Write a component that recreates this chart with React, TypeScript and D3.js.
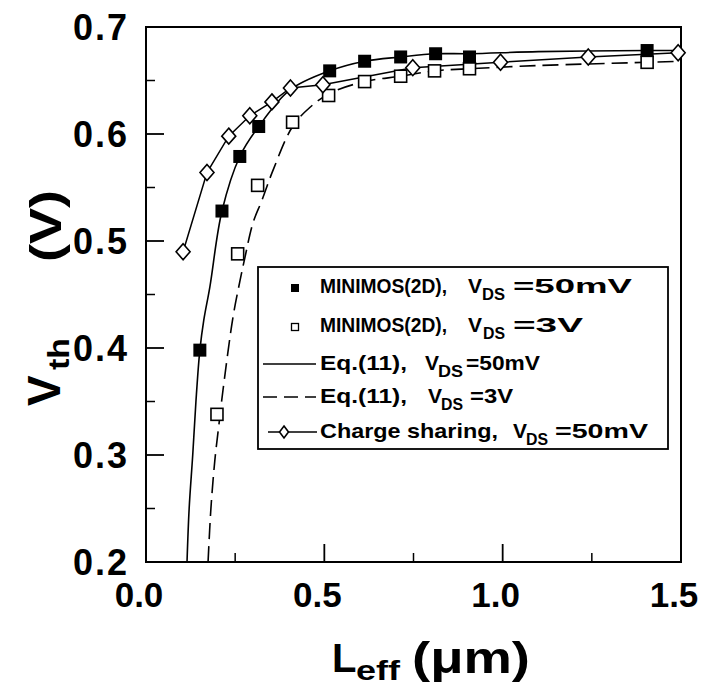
import * as d3 from "d3";

// MINIMOS(2D), VDS = 50mV (filled squares)
const minimos50L = [0.151, 0.213, 0.263, 0.316, 0.515, 0.613, 0.714, 0.812, 0.907, 1.405];
const minimos50V = [0.398, 0.528, 0.579, 0.607, 0.659, 0.668, 0.672, 0.675, 0.672, 0.678];

// MINIMOS(2D), VDS = 3V (open squares)
const minimos3L = [0.199, 0.257, 0.313, 0.411, 0.512, 0.613, 0.714, 0.809, 0.907, 1.405];
const minimos3V = [0.338, 0.488, 0.552, 0.611, 0.636, 0.649, 0.654, 0.659, 0.661, 0.667];

// Eq.(11), VDS = 50mV (solid)
const eq50L = [0.115, 0.121, 0.131, 0.14, 0.151, 0.162, 0.179, 0.213, 0.263, 0.316, 0.403, 0.515, 0.613, 0.714, 0.812, 0.907, 1.1, 1.405, 1.5];
const eq50V = [0.2, 0.25, 0.3, 0.35, 0.398, 0.426, 0.457, 0.528, 0.579, 0.607, 0.641, 0.659, 0.668, 0.672, 0.675, 0.675, 0.677, 0.678, 0.678];

// Eq.(11), VDS = 3V (dashed)
const eq3L = [0.174, 0.182, 0.193, 0.205, 0.216, 0.244, 0.263, 0.277, 0.3, 0.325, 0.356, 0.411, 0.46, 0.515, 0.613, 0.714, 0.809, 0.907, 1.1, 1.405, 1.5];
const eq3V = [0.2, 0.25, 0.295, 0.33, 0.361, 0.429, 0.462, 0.484, 0.517, 0.538, 0.566, 0.607, 0.625, 0.638, 0.649, 0.654, 0.659, 0.661, 0.664, 0.667, 0.668];

// Charge sharing, VDS = 50mV (diamonds)
const chargeL = [0.104, 0.171, 0.232, 0.291, 0.353, 0.405, 0.496, 0.748, 0.994, 1.24, 1.492];
const chargeV = [0.49, 0.564, 0.598, 0.617, 0.63, 0.643, 0.646, 0.662, 0.667, 0.672, 0.676];

const xMajor = [0, 0.5, 1.0, 1.5];
const xMinor = [0.25, 0.75, 1.25];
const yMajor = [0.2, 0.3, 0.4, 0.5, 0.6, 0.7];
const yMinor = [0.25, 0.35, 0.45, 0.55, 0.65];

const legendLabels = ["MINIMOS(2D),", "MINIMOS(2D),", "Eq.(11),", "Eq.(11),", "Charge sharing,"];
const legendConds = ["=50mV", "=3V", "=50mV", "=3V", "=50mV"];

const FONT = "'Liberation Sans', Arial, Helvetica, sans-serif";

// legend text layout: [x, width] of each piece, per row
const legendLayout = [
    { base: 293, lab: [320, 127], v: 468, ds: [482, 23], cond: [513, 119] },
    { base: 332, lab: [320, 127], v: 468, ds: [483, 22], cond: [513, 70] },
    { base: 370, lab: [320, 87], v: 425, ds: [438, 25], cond: [466, 74] },
    { base: 403, lab: [320, 87], v: 428, ds: [441, 22], cond: [470, 43] },
    { base: 438, lab: [320, 178], v: 513, ds: [526, 22], cond: [555, 93] },
];

const zip = (a: number[], b: number[]) => a.map((v, i) => [v, b[i]] as [number, number]);

function Diamond({ cx, cy, w = 7, h = 8 }: { cx: number; cy: number; w?: number; h?: number }) {
    return (
        <path
            d={`M${cx},${cy - h}L${cx + w},${cy}L${cx},${cy + h}L${cx - w},${cy}Z`}
            fill="white"
            stroke="black"
            strokeWidth={1.6}
        />
    );
}

export default function App() {
    const width = 701;
    const height = 691;
    const x = d3.scaleLinear([0, 1.5], [146, 681]);
    const y = d3.scaleLinear([0.2, 0.7], [562, 27]);

    const line = d3
        .line<[number, number]>()
        .x((d) => x(d[0]))
        .y((d) => y(d[1]))
        .curve(d3.curveCatmullRom.alpha(0.5));
    const straight = d3
        .line<[number, number]>()
        .x((d) => x(d[0]))
        .y((d) => y(d[1]));

    const rowBase = legendLayout.map((r) => r.base);

    return (
        <svg
            width={width}
            height={height}
            style={{ position: "absolute", left: 0, top: 0, background: "white" }}
            fontFamily={FONT}
            fontWeight="bold"
        >
            <defs>
                <clipPath id="plot">
                    <rect x={x(0)} y={y(0.7)} width={x(1.5) - x(0)} height={y(0.2) - y(0.7)} />
                </clipPath>
            </defs>

            {/* frame */}
            <rect
                x={x(0)}
                y={y(0.7)}
                width={x(1.5) - x(0)}
                height={y(0.2) - y(0.7)}
                fill="none"
                stroke="black"
                strokeWidth={2}
            />

            {/* ticks */}
            {yMajor.map((v) => (
                <line key={"ym" + v} x1={x(0)} x2={x(0) + 18} y1={y(v)} y2={y(v)} stroke="black" strokeWidth={1.8} />
            ))}
            {yMinor.map((v) => (
                <line key={"yn" + v} x1={x(0)} x2={x(0) + 9} y1={y(v)} y2={y(v)} stroke="black" strokeWidth={1.5} />
            ))}
            {xMajor.map((v) => (
                <line key={"xm" + v} x1={x(v)} x2={x(v)} y1={y(0.2)} y2={y(0.2) - 18} stroke="black" strokeWidth={1.8} />
            ))}
            {xMinor.map((v) => (
                <line key={"xn" + v} x1={x(v)} x2={x(v)} y1={y(0.2)} y2={y(0.2) - 9} stroke="black" strokeWidth={1.5} />
            ))}

            {/* tick labels */}
            {yMajor.map((v) => (
                <text key={"yl" + v} x={129} y={y(v)} dy="0.36em" textAnchor="end" fontSize={36} letterSpacing={2}>
                    {v.toFixed(1)}
                </text>
            ))}
            {xMajor.map((v) => (
                <text key={"xl" + v} x={x(v) - 7} y={607} textAnchor="middle" fontSize={35}>
                    {v.toFixed(1)}
                </text>
            ))}

            {/* x axis title */}
            <text x={332} y={672} fontSize={40}>L</text>
            <text x={356} y={680} fontSize={28} textLength={44} lengthAdjust="spacingAndGlyphs">eff</text>
            <text x={412} y={673} fontSize={44} textLength={118} lengthAdjust="spacingAndGlyphs">(μm)</text>

            {/* y axis title */}
            <g transform="translate(60,0) rotate(-90)">
                <text x={-406} y={0} fontSize={46}>V</text>
                <text x={-370} y={9} fontSize={30} textLength={32} lengthAdjust="spacingAndGlyphs">th</text>
                <text x={-262} y={1} fontSize={44} textLength={72} lengthAdjust="spacingAndGlyphs">(V)</text>
            </g>

            {/* curves */}
            <g clipPath="url(#plot)" fill="none" stroke="black">
                <path d={line(zip(eq50L, eq50V)) || ""} strokeWidth={1.6} />
                <path d={line(zip(eq3L, eq3V)) || ""} strokeWidth={1.6} strokeDasharray="16,7" />
                <path d={straight(zip(chargeL, chargeV)) || ""} strokeWidth={1.5} />
            </g>

            {/* markers */}
            {zip(minimos3L, minimos3V).map(([l, v], i) => (
                <rect key={"o" + i} x={x(l) - 6} y={y(v) - 6} width={12} height={12} fill="white" stroke="black" strokeWidth={1.6} />
            ))}
            {zip(chargeL, chargeV).map(([l, v], i) => (
                <Diamond key={"d" + i} cx={x(l)} cy={y(v)} />
            ))}
            {zip(minimos50L, minimos50V).map(([l, v], i) => (
                <rect key={"f" + i} x={x(l) - 6.5} y={y(v) - 6.5} width={13} height={13} fill="black" />
            ))}

            {/* legend */}
            <rect x={258} y={267} width={410} height={182} fill="white" stroke="black" strokeWidth={1.8} />
            <rect x={291} y={rowBase[0] - 9} width={8} height={8} fill="black" />
            <rect x={291.5} y={rowBase[1] - 8.5} width={7} height={7} fill="white" stroke="black" strokeWidth={1.3} />
            <line x1={263} x2={316} y1={rowBase[2] - 6} y2={rowBase[2] - 6} stroke="black" strokeWidth={1.5} />
            <line x1={263} x2={316} y1={rowBase[3] - 6} y2={rowBase[3] - 6} stroke="black" strokeWidth={1.5} strokeDasharray="14,7" />
            <line x1={268} x2={317} y1={rowBase[4] - 6} y2={rowBase[4] - 6} stroke="black" strokeWidth={1.5} />
            <Diamond cx={284} cy={rowBase[4] - 6} w={4.5} h={6} />
            {legendLabels.map((lab, i) => {
                const r = legendLayout[i];
                return (
                    <g key={"lg" + i} fontSize={21}>
                        <text x={r.lab[0]} y={r.base} textLength={r.lab[1]} lengthAdjust="spacingAndGlyphs">{lab}</text>
                        <text x={r.v} y={r.base}>V</text>
                        <text x={r.ds[0]} y={r.base + 7} fontSize={17} textLength={r.ds[1]} lengthAdjust="spacingAndGlyphs">DS</text>
                        <text x={r.cond[0]} y={r.base} textLength={r.cond[1]} lengthAdjust="spacingAndGlyphs">{legendConds[i]}</text>
                    </g>
                );
            })}
        </svg>
    );
}
